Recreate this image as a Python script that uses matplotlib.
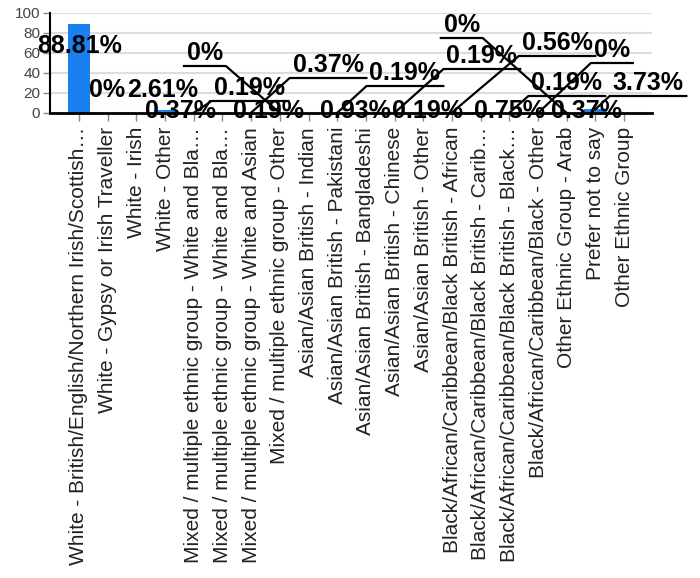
import matplotlib
matplotlib.use("Agg")
import matplotlib.pyplot as plt

categories = [
    "White - British/English/Northern Irish/Scottish…",
    "White - Gypsy or Irish Traveller",
    "White - Irish",
    "White - Other",
    "Mixed / multiple ethnic group - White and Bla…",
    "Mixed / multiple ethnic group - White and Bla…",
    "Mixed / multiple ethnic group - White and Asian",
    "Mixed / multiple ethnic group - Other",
    "Asian/Asian British - Indian",
    "Asian/Asian British - Pakistani",
    "Asian/Asian British - Bangladeshi",
    "Asian/Asian British - Chinese",
    "Asian/Asian British - Other",
    "Black/African/Caribbean/Black British - African",
    "Black/African/Caribbean/Black British - Carib…",
    "Black/African/Caribbean/Black British - Black…",
    "Black/African/Caribbean/Black - Other",
    "Other Ethnic Group - Arab",
    "Prefer not to say",
    "Other Ethnic Group",
]
values = [88.81, 0, 0.37, 2.61, 0.19, 0.19, 0.37, 0, 0.19, 0.19,
          0.93, 0.19, 0.19, 0.56, 0.75, 0.19, 0, 0, 3.73, 0.37]

# where each data label ended up (text centre x, baseline y) and which end of
# the underline the leader line leaves from; None = label hidden by overlap
label_layout = [
    (0.03, 60, None), (0.98, 16, None), (3.55, -5, None), (2.93, 16, None),
    (5.96, 18, "L"), (6.59, -5, None), (8.68, 41, "L"), (4.39, 53, "R"),
    None, (11.36, 33, "L"), (9.62, -5, None), (14.04, 50, "L"),
    (12.16, -5, None), (16.66, 63, "L"), (15.02, -5, None), (17.0, 23, "L"),
    (18.57, 56, "L"), (13.34, 81, "R"), (19.83, 23, "L"), (17.70, -5, None),
]

plt.rcParams['font.family'] = ['Liberation Sans', 'DejaVu Sans']

fig = plt.figure(figsize=(7, 5.78), dpi=100)
ax = fig.add_axes([50 / 700, 1 - 113 / 578, 602 / 700, 100 / 578])

x = list(range(len(categories)))
ax.bar(x, values, width=0.77, color="#1a80f0", zorder=2)

ax.set_xlim(-1.01, 19.97)
ax.set_ylim(0, 100)
ax.set_yticks([0, 20, 40, 60, 80, 100])
ax.yaxis.grid(True, color="#dddddd", linewidth=1.5, zorder=0)
ax.set_axisbelow(True)
for s in ["top", "right", "bottom"]:
    ax.spines[s].set_visible(False)
ax.spines["left"].set_color("black")
ax.spines["left"].set_linewidth(1.5)
ax.axhline(0, color="black", linewidth=2, zorder=6, clip_on=False)

ax.set_xticks(x)
ax.set_xticklabels(categories, rotation=90, fontsize=15, color="#222222")
ax.tick_params(axis="x", length=6, width=1, color="#888888", pad=4)
ax.tick_params(axis="y", length=5, width=1, color="#888888", labelsize=11,
               labelcolor="#444444", pad=2)

texts = []
for i, v in enumerate(values):
    lay = label_layout[i]
    if lay is None:
        continue
    tx, ty, side = lay
    t = ax.text(tx, ty, f"{v:g}%", ha="center", va="baseline", fontsize=18,
                fontweight="bold", color="black", zorder=5, clip_on=False)
    texts.append((i, v, t, ty, side))

fig.canvas.draw()
renderer = fig.canvas.get_renderer()
inv = ax.transData.inverted()
for i, v, t, ty, side in texts:
    if side is None:
        continue
    bb = t.get_window_extent(renderer).transformed(inv)
    uy = ty - 6
    x0, x1 = bb.x0 - 0.1, bb.x1 + 0.1
    if side == "L":
        xs, ys = [i, x0, x1], [v, uy, uy]
    else:
        xs, ys = [i, x1, x0], [v, uy, uy]
    ax.plot(xs, ys, color="black", linewidth=1.6, zorder=4, clip_on=False)

fig.savefig("out.png", dpi=100, facecolor="white")
